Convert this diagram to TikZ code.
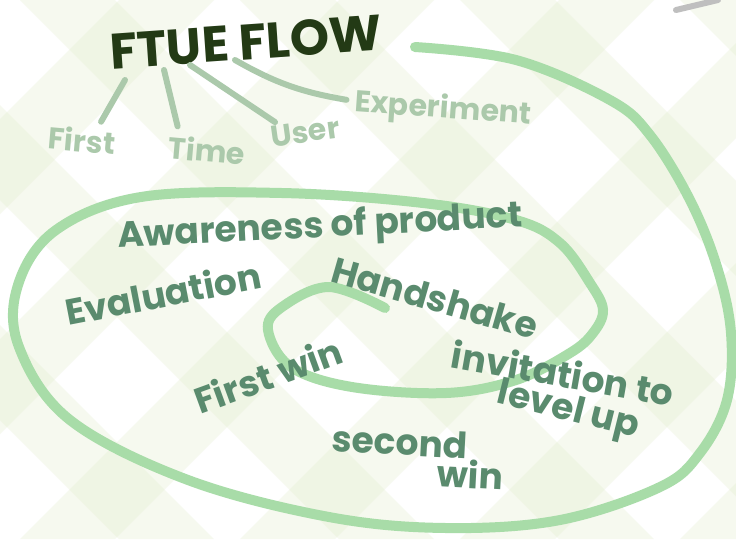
\documentclass[tikz,border=0pt]{standalone}
\usepackage{fontspec}
\setmainfont{Poppins}
\usepackage{xcolor}
\usetikzlibrary{positioning,calc}

\definecolor{spiralgreen}{HTML}{A8DCA8}
\definecolor{titlegreen}{HTML}{233A15}
\definecolor{stagegreen}{HTML}{5A8B6E}
\definecolor{subgreen}{HTML}{ABC9AB}
\definecolor{plaidgreen}{HTML}{E2ECCB}

\begin{document}
\begin{tikzpicture}[x=1pt, y=-1pt,
    tbox/.style={font=\fontsize{50}{50}\selectfont\bfseries, text=titlegreen, inner sep=0pt},
    sbox/.style={font=\fontsize{30}{30}\selectfont\bfseries, text=subgreen, inner sep=0pt},
    lbox/.style={font=\fontsize{36}{36}\selectfont\bfseries, text=stagegreen, inner sep=0pt},
    branch/.style={draw=subgreen, line width=6pt, line cap=round},
    band/.style={fill=plaidgreen, opacity=0.3}]

    \useasboundingbox (0,0) rectangle (736,539);
    \fill[white] (0,0) rectangle (736,539);

    % plaid background
    \begin{scope}
        \clip (0,0) rectangle (736,539);
        \foreach \o in {-640,-420,...,800} {
            \fill[band] (\o,0) -- ++(95,0) -- ++(539,539) -- ++(-95,0) -- cycle;
            \fill[band] (\o,539) -- ++(95,0) -- ++(539,-539) -- ++(-95,0) -- cycle;
        }
    \end{scope}

    % stray stroke
    \draw[gray!50, line width=6pt, line cap=round] (676,10) -- (718,0);

    % spiral
    \draw[spiralgreen, line width=10pt, line cap=round] plot[smooth, tension=0.6] coordinates {
        (385,308) (329,287) (282,307) (268,330) (291,367) (352,387) (446,393)
        (516,380) (570,353) (593,333) (603,310) (590,283) (560,243) (516,220)
        (423,203) (282,193) (141,197) (56,230) (18,285) (19,347) (70,420)
        (188,480) (329,517) (446,528) (560,520) (660,487) (700,453) (727,400)
        (731,333) (717,267) (690,200) (650,135) (610,100) (516,60) (415,47)};

    % title and its words
    \node[tbox, rotate=4] (ftue) at (246,42) {FTUE FLOW};
    \node[sbox, rotate=-5] (first) at (82,140) {First};
    \node[sbox, rotate=-5] (time) at (207,150) {Time};
    \node[sbox, rotate=8] (user) at (305,132) {User};
    \node[sbox, rotate=-4] (experiment) at (443,110) {Experiment};

    \coordinate (b1) at (125,80);
    \coordinate (b2) at (164,70);
    \coordinate (b3) at (190,65);
    \coordinate (b4) at (235,60);

    \draw[branch] (b1) -- ($(first.north)+(18,-6)$);
    \draw[branch] (b2) -- ($(time.north west)+(8,-8)$);
    \draw[branch] (b3) -- ($(user.north west)+(6,-4)$);
    \draw[branch] (b4) to[bend right=10] ($(experiment.west)+(-8,-4)$);

    % stages
    \node[lbox, rotate=3] (awareness) at (320,228) {Awareness of product};
    \node[lbox, rotate=11] (evaluation) at (163,293) {Evaluation};
    \node[lbox, rotate=-16] (handshake) at (435,298) {Handshake};
    \node[lbox, rotate=20] (firstwin) at (268,375) {First win};
    \node[lbox, rotate=-10] (invitation) at (563,373) {invitation to};
    \node[lbox, rotate=-14] (levelup) at (568,412) {level up};
    \node[lbox, rotate=-3] (second) at (400,442) {second};
    \node[lbox, rotate=-3, below=0pt of second, xshift=72pt] (win) {win};
\end{tikzpicture}
\end{document}
